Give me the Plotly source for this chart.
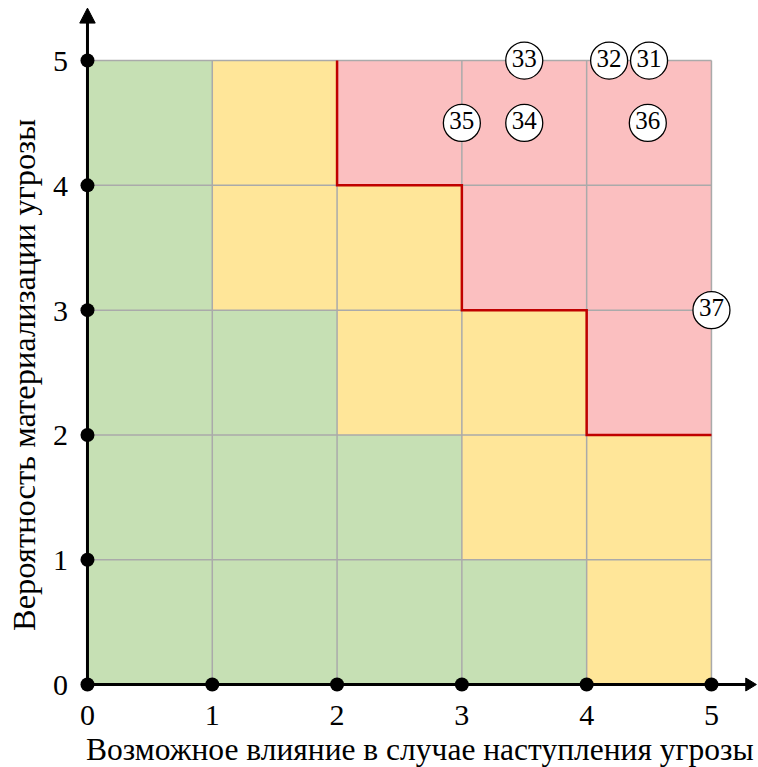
import plotly.graph_objects as go

# risk level matrix, rows from bottom (y=0..1) to top (y=4..5), columns x=0..5
risk_rows = [
    ["G", "G", "G", "G", "Y"],
    ["G", "G", "G", "Y", "Y"],
    ["G", "G", "Y", "Y", "R"],
    ["G", "Y", "Y", "R", "R"],
    ["G", "Y", "R", "R", "R"],
]
level_colors = {"G": "#C6E0B4", "Y": "#FFE699", "R": "#FBBFC0"}

boundary_x = [2, 2, 3, 3, 4, 4, 5]
boundary_y = [5, 4, 4, 3, 3, 2, 2]

threat_labels = ["33", "32", "31", "35", "34", "36", "37"]
threat_x = [3.5, 4.18, 4.5, 3.0, 3.5, 4.49, 5.0]
threat_y = [5.0, 5.0, 5.0, 4.5, 4.5, 4.5, 3.0]

tick_vals = [0, 1, 2, 3, 4, 5]
x_title = "Возможное влияние в случае наступления угрозы"
y_title = "Вероятность материализации угрозы"

FONT = "Liberation Serif"
fig = go.Figure()
shapes = []

# cells
for r, row in enumerate(risk_rows):
    for c, lvl in enumerate(row):
        shapes.append(dict(type="rect", xref="x", yref="y", x0=c, x1=c + 1, y0=r, y1=r + 1,
                           fillcolor=level_colors[lvl], line=dict(width=0), layer="below"))
# grid
for v in tick_vals[1:]:
    shapes.append(dict(type="line", xref="x", yref="y", x0=v, x1=v, y0=0, y1=5,
                       line=dict(color="#AAAAAA", width=1.5), layer="below"))
    shapes.append(dict(type="line", xref="x", yref="y", x0=0, x1=5, y0=v, y1=v,
                       line=dict(color="#AAAAAA", width=1.5), layer="below"))
# axes with arrows
shapes.append(dict(type="line", xref="x", yref="y", x0=0, x1=5.3, y0=0, y1=0,
                   line=dict(color="black", width=3)))
shapes.append(dict(type="line", xref="x", yref="y", x0=0, x1=0, y0=0, y1=5.32,
                   line=dict(color="black", width=3)))
shapes.append(dict(type="path", xref="x", yref="y",
                   path="M 5.275,-0.052 L 5.36,0 L 5.275,0.052 Z",
                   fillcolor="black", line=dict(color="black", width=1)))
shapes.append(dict(type="path", xref="x", yref="y",
                   path="M -0.062,5.30 L 0,5.42 L 0.062,5.30 Z",
                   fillcolor="black", line=dict(color="black", width=1)))

# red boundary
fig.add_trace(go.Scatter(x=boundary_x, y=boundary_y, mode="lines",
                         line=dict(color="#C00000", width=2.5), hoverinfo="skip",
                         showlegend=False))
# tick dots
fig.add_trace(go.Scatter(x=tick_vals + [0] * 5, y=[0] * 6 + tick_vals[1:], mode="markers",
                         marker=dict(color="black", size=14), cliponaxis=False,
                         showlegend=False))
# threats
fig.add_trace(go.Scatter(x=threat_x, y=threat_y, mode="markers+text", text=threat_labels,
                         textposition="middle center",
                         textfont=dict(family=FONT, size=25, color="black"),
                         marker=dict(color="white", size=37, line=dict(color="black", width=1.3)),
                         cliponaxis=False, showlegend=False))

annotations = [
    dict(text=x_title, xref="paper", yref="paper", x=(420 - 75) / 682, y=-(749 - 697) / 693,
         xanchor="center", yanchor="middle", showarrow=False,
         font=dict(family=FONT, size=31.5, color="black")),
    dict(text=y_title, xref="paper", yref="paper", x=-(75 - 24) / 682, y=(697 - 375) / 693,
         xanchor="center", yanchor="middle", showarrow=False, textangle=-90,
         font=dict(family=FONT, size=32.5, color="black")),
]

fig.update_layout(
    width=758, height=767,
    margin=dict(l=75, r=1, t=4, b=70),
    paper_bgcolor="white", plot_bgcolor="white",
    shapes=shapes, annotations=annotations,
    font=dict(family=FONT, size=30, color="black"),
    xaxis=dict(range=[-0.1, 5.365], tickvals=tick_vals, showgrid=False, zeroline=False,
               showline=False, ticks="outside", ticklen=2, tickcolor="rgba(0,0,0,0)",
               ticklabelstandoff=-11,
               tickfont=dict(family=FONT, size=30), automargin=False),
    yaxis=dict(range=[-0.1, 5.453], tickvals=tick_vals, showgrid=False, zeroline=False,
               showline=False, ticks="outside", ticklen=2, tickcolor="rgba(0,0,0,0)",
               ticklabelstandoff=-2,
               tickfont=dict(family=FONT, size=30), automargin=False),
)
fig.write_html("out.html", config={"displayModeBar": False},
               post_script="document.body.style.margin='0px';")
